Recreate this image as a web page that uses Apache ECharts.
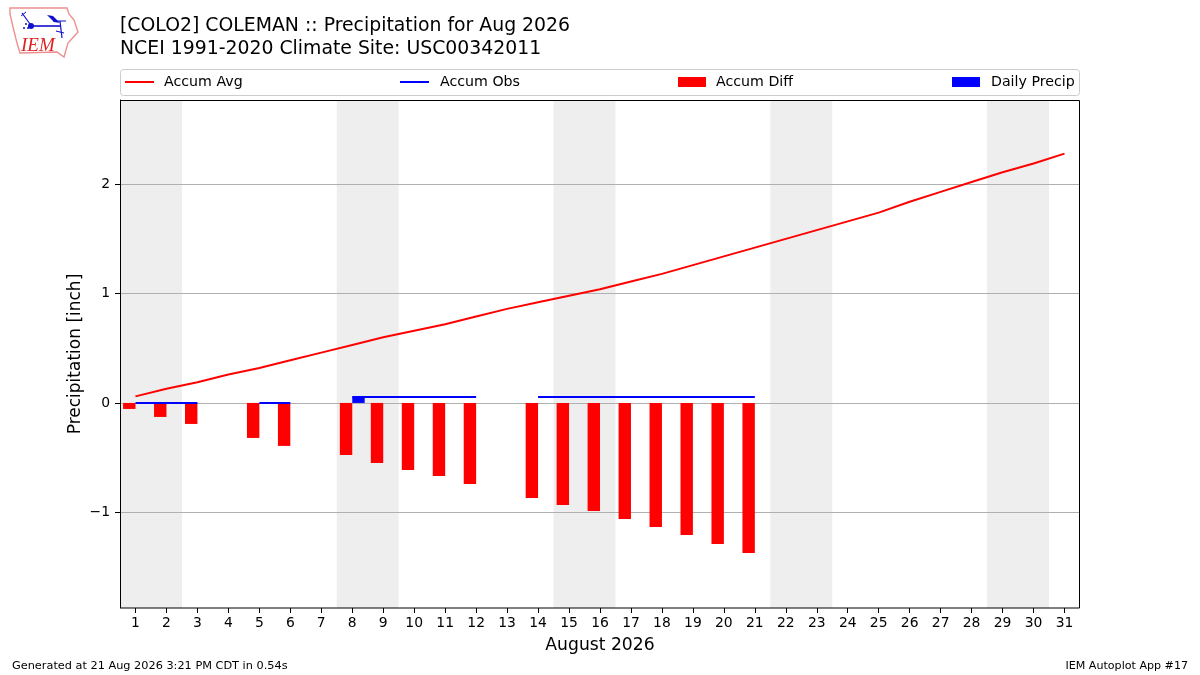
<!DOCTYPE html>
<html><head><meta charset="utf-8">
<style>html,body{margin:0;padding:0;background:#fff}#c{width:1200px;height:675px}</style>
<script src="https://cdn.jsdelivr.net/npm/echarts@6/dist/echarts.min.js"></script>
</head><body><div id="c"></div>
<script>
const days = ['1','2','3','4','5','6','7','8','9','10','11','12','13','14','15','16','17','18','19','20','21','22','23','24','25','26','27','28','29','30','31'];
const accumAvg = [0.06,0.13,0.19,0.26,0.32,0.39,0.46,0.53,0.60,0.66,0.72,0.79,0.86,0.92,0.98,1.04,1.11,1.18,1.26,1.34,1.42,1.50,1.58,1.66,1.74,1.84,1.93,2.02,2.11,2.19,2.28];
const accumObs = [0,0,0,null,0,0,null,0.055,0.055,0.055,0.055,0.055,null,0.055,0.055,0.055,0.055,0.055,0.055,0.055,0.055,null,null,null,null,null,null,null,null,null,null];
const accumDiff = [-0.055,-0.128,-0.192,null,-0.32,-0.393,null,-0.476,-0.549,-0.613,-0.668,-0.741,null,-0.869,-0.933,-0.988,-1.061,-1.134,-1.207,-1.29,-1.372,null,null,null,null,null,null,null,null,null,null];
const dailyPrecip = [null,null,null,null,null,null,null,0.055,null,null,null,null,null,null,null,null,null,null,null,null,null,null,null,null,null,null,null,null,null,null,null];
const weekendSpans = [[0.5,2.5],[7.5,9.5],[14.5,16.5],[21.5,23.5],[28.5,30.5]];
const yTicks = [-1,0,1,2];
const yMin = -1.875, yMax = 2.77;
const FONT = 'DejaVu Sans';

function legendAt(name, left, w, h, pad){
  return {show:true,left:left,top:75,orient:'horizontal',padding:0,itemWidth:w,itemHeight:h,itemGap:10,icon:'rect',
    data:[name],selectedMode:false,textStyle:{fontFamily:FONT,fontSize:14.2,color:'#000',padding:[5,0,0,pad]}};
}
const chart = echarts.init(document.getElementById('c'),null,{renderer:'canvas'});
chart.setOption({
  animation:false,
  backgroundColor:'#fff',
  title:{left:120,top:15,padding:0,text:'[COLO2] COLEMAN :: Precipitation for Aug 2026\nNCEI 1991-2020 Climate Site: USC00342011',
    textStyle:{fontFamily:FONT,fontSize:18.85,fontWeight:'normal',color:'#000',lineHeight:23}},
  legend:[legendAt('Accum Avg',125,29,2,5),legendAt('Accum Obs',400,29,2,6),legendAt('Accum Diff',678,28,10,5),legendAt('Daily Precip',952,28,10,6)],
  grid:{left:120,right:120,top:100,bottom:67,show:false,containLabel:false},
  xAxis:[{type:'category',data:days,boundaryGap:true,name:'August 2026',nameLocation:'middle',nameGap:29,z:2,
      nameTextStyle:{fontFamily:FONT,fontSize:17.2,color:'#000'},
      axisLine:{show:false,onZero:false},
      axisTick:{show:true,alignWithLabel:true,length:5,lineStyle:{color:'#000'}},
      axisLabel:{interval:0,fontFamily:FONT,fontSize:13.9,color:'#000',margin:8},
      splitLine:{show:false}},
    {type:'value',min:0.5,max:31.5,show:false,position:'bottom'}],
  yAxis:{type:'value',min:yMin,max:yMax,name:'Precipitation [inch]',nameLocation:'middle',nameGap:36,nameMoveOverlap:false,z:2,
      nameTextStyle:{fontFamily:FONT,fontSize:17,color:'#000'},
      axisLine:{show:true,onZero:false,lineStyle:{color:'#000',width:1}},
      axisTick:{show:true,length:5,lineStyle:{color:'#000',width:1},customValues:yTicks},
      axisLabel:{fontFamily:FONT,fontSize:13.9,color:'#000',margin:10,customValues:yTicks,
        formatter:v=>String(v).replace('-','\u2212')},
      splitLine:{show:true,lineStyle:{color:'#b0b0b0',width:1,type:'solid'}}},
  series:[
    {name:'weekend',type:'custom',coordinateSystem:'cartesian2d',xAxisIndex:1,yAxisIndex:0,z:1,silent:true,clip:true,
      data:weekendSpans,encode:{x:[0,1]},
      renderItem:(p,api)=>{
        const a=api.coord([api.value(0),yMax]), b=api.coord([api.value(1),yMin]);
        return {type:'rect',shape:{x:a[0],y:a[1],width:b[0]-a[0],height:b[1]-a[1]},style:{fill:'#eeeeee'}};
      }},
    {name:'Accum Diff',type:'bar',data:accumDiff,barWidth:12.4,barGap:'0%',itemStyle:{color:'#ff0000'},z:3},
    {name:'Daily Precip',type:'bar',data:dailyPrecip,barWidth:12.4,barGap:'0%',itemStyle:{color:'#0000ff'},z:3},
    {name:'Accum Avg',type:'line',data:accumAvg,showSymbol:false,symbol:'none',lineStyle:{color:'#ff0000',width:2},itemStyle:{color:'#ff0000'},z:4},
    {name:'Accum Obs',type:'line',data:accumObs,showSymbol:false,symbol:'none',connectNulls:false,lineStyle:{color:'#0000ff',width:2},itemStyle:{color:'#0000ff'},z:4}
  ],
  graphic:[
    {type:'rect',z:-10,shape:{x:120.5,y:69.5,width:959,height:26,r:3},style:{fill:'#fff',stroke:'#cccccc',lineWidth:1}},
    {type:'rect',z:20,silent:true,shape:{x:120.5,y:100.5,width:959,height:507.5},style:{fill:'none',stroke:'#000',lineWidth:1}},
    {type:'text',left:12,top:661,style:{text:'Generated at 21 Aug 2026 3:21 PM CDT in 0.54s',fontFamily:FONT,fontSize:11.3,fill:'#000'}},
    {type:'text',right:12,top:661,style:{text:'IEM Autoplot App #17',fontFamily:FONT,fontSize:11.1,fill:'#000'}},
    {type:'polygon',shape:{points:[[10,8],[67,8],[69,14],[74,20],[78,32],[68,43],[66,50],[64,57],[57,52],[20,53],[17,43],[13,27],[10,14]]},style:{fill:'#fff',stroke:'#ee9090',lineWidth:1.4}},
    {type:'line',shape:{x1:31,y1:26,x2:60,y2:26},style:{stroke:'#1010cc',lineWidth:1.6}},
    {type:'circle',shape:{cx:31,cy:26,r:3},style:{fill:'#1010cc'}},
    {type:'polygon',shape:{points:[[47,15],[53,16],[60,23],[54,22]]},style:{fill:'#1010cc'}},
    {type:'line',shape:{x1:53,y1:21,x2:66,y2:21},style:{stroke:'#1010cc',lineWidth:1}},
    {type:'line',shape:{x1:60,y1:21,x2:62,y2:38},style:{stroke:'#1010cc',lineWidth:1.2}},
    {type:'line',shape:{x1:56,y1:31,x2:64,y2:33},style:{stroke:'#1010cc',lineWidth:1.2}},
    {type:'line',shape:{x1:22,y1:13,x2:30,y2:24},style:{stroke:'#1010cc',lineWidth:1.2}},
    {type:'line',shape:{x1:21,y1:16,x2:26,y2:12},style:{stroke:'#1010cc',lineWidth:1}},
    {type:'circle',shape:{cx:26,cy:24,r:1},style:{fill:'#1010cc'}},
    {type:'circle',shape:{cx:24,cy:28,r:1},style:{fill:'#1010cc'}},
    {type:'circle',shape:{cx:28,cy:28,r:1},style:{fill:'#1010cc'}},
    {type:'text',left:21,top:36,style:{text:'IEM',fontFamily:'Liberation Serif',fontStyle:'italic',fontSize:19,fill:'#d22'}}
  ]
});
</script></body></html>
